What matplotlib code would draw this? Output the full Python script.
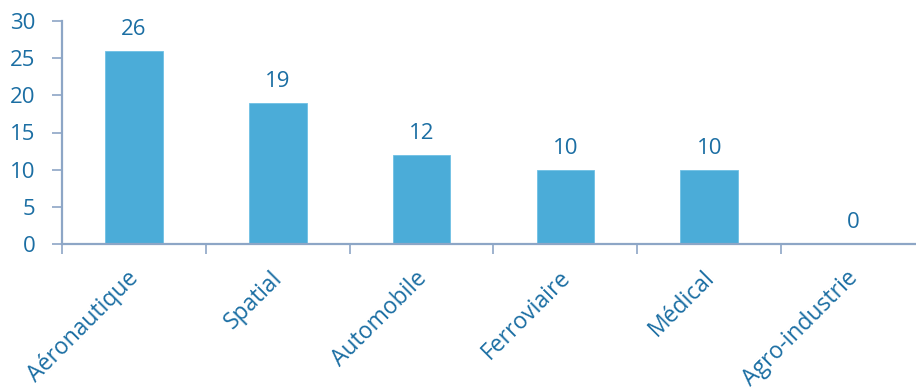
import matplotlib
matplotlib.use("Agg")
import matplotlib.pyplot as plt
import numpy as np

categories = ["Aéronautique", "Spatial", "Automobile", "Ferroviaire", "Médical", "Agro-industrie"]
values = [26, 19, 12, 10, 10, 0]
yticks = [0, 5, 10, 15, 20, 25, 30]

bar_color = "#4BACD8"
text_color = "#1B6EA3"
axis_color = "#8DA6C6"

plt.rcParams['font.family'] = ['Open Sans', 'DejaVu Sans']

fig = plt.figure(figsize=(9.16, 3.89), dpi=100)
ax = fig.add_axes([62/916, (389-244)/389, 863/916, 223/389])

x = np.arange(len(categories)) + 0.5
ax.bar(x, values, width=0.4, color=bar_color, edgecolor="#6FC0E4", linewidth=0.6)
for xi, v in zip(x, values):
    ax.annotate(str(v), (xi, v), xytext=(0, 8), textcoords="offset points",
                ha="center", va="bottom", fontsize=16, color=text_color)

ax.set_xlim(0, len(categories))
ax.set_ylim(0, 30)
ax.set_yticks(yticks)
ax.set_yticklabels([str(t) for t in yticks], fontsize=16, color=text_color)
ax.set_xticks(np.arange(len(categories)))
ax.set_xticklabels([])
ax.tick_params(axis="x", direction="out", length=7, color=axis_color, width=1.2)
ax.tick_params(axis="y", direction="out", length=7, color=axis_color, width=1.2, pad=12)

for xi, lab in zip(x, categories):
    ax.annotate(lab, (xi, 0), xytext=(-5, -16), textcoords="offset points",
                rotation=45, ha="right", va="top", rotation_mode="anchor",
                fontsize=16.5, color=text_color, annotation_clip=False)

for s in ["top", "right"]:
    ax.spines[s].set_visible(False)
for s in ["left", "bottom"]:
    ax.spines[s].set_color(axis_color)
    ax.spines[s].set_linewidth(1.6)

fig.savefig("out.png", dpi=100)
